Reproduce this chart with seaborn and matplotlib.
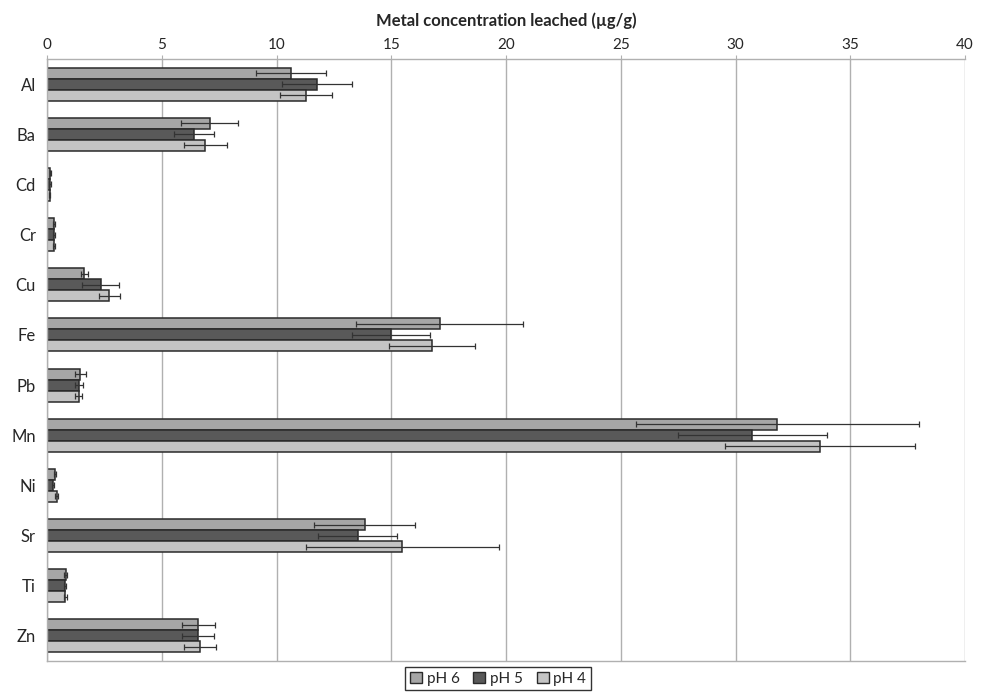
import pandas as pd
import numpy as np
import seaborn as sns
import matplotlib.pyplot as plt
from matplotlib.ticker import FixedLocator

# metales y niveles de pH
metales = ["Al", "Ba", "Cd", "Cr", "Cu", "Fe", "Pb", "Mn", "Ni", "Sr", "Ti", "Zn"]
niveles = ["pH 6", "pH 5", "pH 4"]

# valores medios (ug/g)
ph6 = [10.64, 7.09, 0.15, 0.32, 1.63, 17.11, 1.45, 31.82, 0.35, 13.85, 0.81, 6.60]
ph5 = [11.76, 6.41, 0.13, 0.30, 2.34, 14.99, 1.41, 30.73, 0.27, 13.53, 0.78, 6.58]
ph4 = [11.28, 6.90, 0.12, 0.30, 2.72, 16.79, 1.38, 33.68, 0.42, 15.49, 0.80, 6.67]

# desviaciones
err6 = [1.53, 1.24, 0.03, 0.05, 0.17, 3.64, 0.24, 6.17, 0.05, 2.20, 0.05, 0.73]
err5 = [1.53, 0.87, 0.03, 0.05, 0.80, 1.69, 0.17, 3.25, 0.04, 1.70, 0.05, 0.71]
err4 = [1.14, 0.93, 0.03, 0.05, 0.44, 1.87, 0.15, 4.12, 0.05, 4.21, 0.05, 0.68]

colores = ["#a6a6a6", "#595959", "#c4c4c4"]

archivo = pd.DataFrame({
    "metal": metales * 3,
    "pH": [n for n in niveles for _ in metales],
    "valor": ph6 + ph5 + ph4,
    "err": err6 + err5 + err4,
})

sns.set_style("white")
plt.rcParams["font.family"] = ["Lato", "DejaVu Sans"]

fig = plt.figure(figsize=(9.84, 6.95), dpi=100)
ax = fig.add_axes([47 / 984, 1 - 661 / 695, 918 / 984, 602 / 695])

sns.barplot(data=archivo, x="valor", y="metal", hue="pH", order=metales,
            hue_order=niveles, palette=colores, orient="h", width=0.66,
            edgecolor="#2a2a2a", linewidth=1.1, errorbar=None, legend=False, ax=ax)

# barras de error
for cont, errs in zip(ax.containers, [err6, err5, err4]):
    for barra, e in zip(cont, errs):
        yc = barra.get_y() + barra.get_height() / 2
        ax.errorbar(barra.get_width(), yc, xerr=e, fmt="none", ecolor="#333333",
                    elinewidth=0.9, capsize=2.2, capthick=0.9, zorder=5)

ax.set_xlim(0, 40)
ax.set_xticks(range(0, 41, 5))
ax.xaxis.tick_top()
ax.xaxis.set_label_position("top")
ax.set_xlabel("Metal concentration leached (µg/g)", fontsize=12, fontweight="bold", labelpad=9)
ax.set_ylabel("")
ax.set_ylim(len(metales) - 0.5, -0.5)
ax.tick_params(axis="x", labelsize=11, length=3, color="#b0b0b0", pad=2)
ax.tick_params(axis="y", which="major", labelsize=12, length=0, pad=8)
ax.yaxis.set_minor_locator(FixedLocator(np.arange(-0.5, len(metales), 1)))
ax.tick_params(axis="y", which="minor", length=4, color="#b0b0b0")

ax.grid(axis="x", color="#b0b0b0", linewidth=1)
ax.set_axisbelow(True)
for lado in ["top", "left", "bottom"]:
    ax.spines[lado].set_color("#b0b0b0")
    ax.spines[lado].set_linewidth(1)
ax.spines["right"].set_visible(False)

# leyenda
manejadores = [plt.Rectangle((0, 0), 1, 1, facecolor=c, edgecolor="#2a2a2a", linewidth=1)
               for c in colores]
ley = fig.legend(manejadores, niveles, loc="upper center", ncol=3,
                 bbox_to_anchor=(498 / 984, 1 - 667 / 695), fontsize=11,
                 frameon=True, fancybox=False, edgecolor="black", handlelength=0.8,
                 handleheight=0.8, handletextpad=0.3, columnspacing=0.9,
                 borderpad=0.3, borderaxespad=0)
ley.get_frame().set_linewidth(1)

fig.savefig("out.png", dpi=100)
